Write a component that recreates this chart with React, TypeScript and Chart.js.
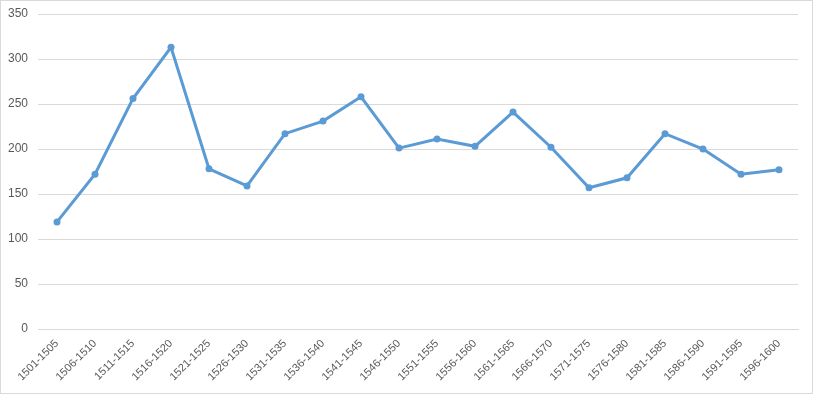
import React, { useEffect, useRef } from "react";
import { Chart, registerables } from "chart.js";

Chart.register(...registerables);

const categories = [
  "1501-1505", "1506-1510", "1511-1515", "1516-1520", "1521-1525",
  "1526-1530", "1531-1535", "1536-1540", "1541-1545", "1546-1550",
  "1551-1555", "1556-1560", "1561-1565", "1566-1570", "1571-1575",
  "1576-1580", "1581-1585", "1586-1590", "1591-1595", "1596-1600",
];
const values = [119, 172, 256, 313, 178, 159, 217, 231, 258, 201, 211, 203, 241, 202, 157, 168, 217, 200, 172, 177];
const yMin = 0;
const yMax = 350;
const yStep = 50;

export default function App() {
  const ref = useRef<HTMLCanvasElement>(null);
  useEffect(() => {
    document.body.style.margin = "0";
    const family = "'Liberation Sans', Arial, sans-serif";
    const chart = new Chart(ref.current!, {
      type: "line",
      data: {
        labels: categories,
        datasets: [
          {
            data: values,
            borderColor: "#5b9bd5",
            backgroundColor: "#5b9bd5",
            borderWidth: 3,
            pointRadius: 3.5,
            pointBorderWidth: 0,
            pointBackgroundColor: "#5b9bd5",
            tension: 0,
          },
        ],
      },
      options: {
        animation: false,
        responsive: false,
        devicePixelRatio: 1,
        layout: { padding: { left: 0, right: 14, top: 13, bottom: 0 } },
        plugins: { legend: { display: false }, tooltip: { enabled: false } },
        scales: {
          x: {
            offset: true,
            grid: { display: false, drawTicks: false },
            border: { display: true, color: "#d9d9d9", width: 1 },
            ticks: { color: "#595959", font: { family, size: 11 }, minRotation: 45, maxRotation: 45, padding: 8, autoSkip: false },
            afterFit: (s: any) => { s.height = 64; s.paddingLeft = 0; s.paddingRight = 0; },
          },
          y: {
            min: yMin,
            max: yMax,
            grid: { color: "#d9d9d9", drawTicks: false, lineWidth: 1 },
            border: { display: false },
            ticks: { stepSize: yStep, color: "#595959", font: { family, size: 12 }, padding: 10 },
            afterFit: (s: any) => { s.width = 37; s.paddingTop = 0; s.paddingBottom = 0; },
          },
        },
      },
    });
    return () => chart.destroy();
  }, []);
  return (
    <div
      style={{
        position: "absolute",
        left: 0,
        top: 0,
        width: 813,
        height: 394,
        boxSizing: "border-box",
        border: "1px solid #d9d9d9",
        background: "#fff",
      }}
    >
      <canvas ref={ref} width={811} height={392} style={{ display: "block" }} />
    </div>
  );
}
